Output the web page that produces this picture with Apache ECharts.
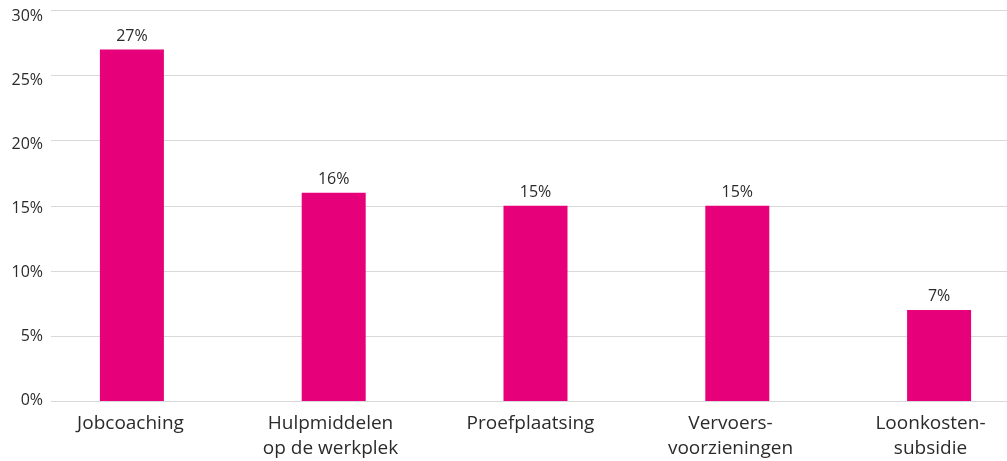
<!DOCTYPE html>
<html><head><meta charset="utf-8">
<script src="https://cdn.jsdelivr.net/npm/echarts@6/dist/echarts.min.js"></script>
<style>html,body{margin:0;padding:0;background:#fff;overflow:hidden}#c{width:1050px;height:461px}</style>
</head><body><div id="c"></div>
<script>
const categories = ['Jobcoaching', 'Hulpmiddelen\nop de werkplek', 'Proefplaatsing', 'Vervoers-\nvoorzieningen', 'Loonkosten-\nsubsidie'];
const values = [27, 16, 15, 15, 7];
const yTicks = [0, 5, 10, 15, 20, 25, 30];

const font = 'Open Sans';
const txt = '#2b2b2b';
const yMin = yTicks[0], yMax = yTicks[yTicks.length - 1], yStep = yTicks[1] - yTicks[0];
const chart = echarts.init(document.getElementById('c'));
chart.setOption({
  animation: false,
  grid: [
    {left: 51, top: 10.5, right: 43, bottom: 60},
    {left: 51, top: 16.5, right: 43, bottom: 60.5},
    {left: 31, top: 10.5, right: 10, bottom: 60},
    {left: 30.5, top: 10.5, right: 19.5, bottom: 60}
  ],
  xAxis: [
    {gridIndex: 0, type: 'value', show: false, min: 0, max: 1},
    {gridIndex: 1, type: 'value', show: false, min: 0, max: 1},
    {gridIndex: 2, type: 'category', data: categories, show: false},
    {gridIndex: 3, type: 'category', data: categories,
     axisLine: {show: false}, axisTick: {show: false},
     axisLabel: {color: txt, fontFamily: font, fontSize: 19, lineHeight: 25, margin: 14}}
  ],
  yAxis: [
    {gridIndex: 0, type: 'value', min: yMin, max: yMax, interval: yStep,
     axisLine: {show: false}, axisTick: {show: false}, axisLabel: {show: false},
     splitLine: {lineStyle: {color: '#d9d9d9', width: 1}}},
    {gridIndex: 1, type: 'value', min: yMin, max: yMax, interval: yStep,
     axisLine: {show: false}, axisTick: {show: false}, splitLine: {show: false},
     axisLabel: {formatter: '{value}%', color: txt, fontFamily: font, fontSize: 16, margin: 8}},
    {gridIndex: 2, type: 'value', min: yMin, max: yMax, show: false, splitLine: {show: false}},
    {gridIndex: 3, type: 'value', min: yMin, max: yMax, show: false, splitLine: {show: false}}
  ],
  series: [{
    type: 'bar', xAxisIndex: 2, yAxisIndex: 2, data: values, barWidth: 64,
    itemStyle: {color: '#E6007A'},
    label: {show: true, position: 'top', distance: 5, formatter: '{c}%', color: txt, fontFamily: font, fontSize: 16}
  }]
});
</script></body></html>
